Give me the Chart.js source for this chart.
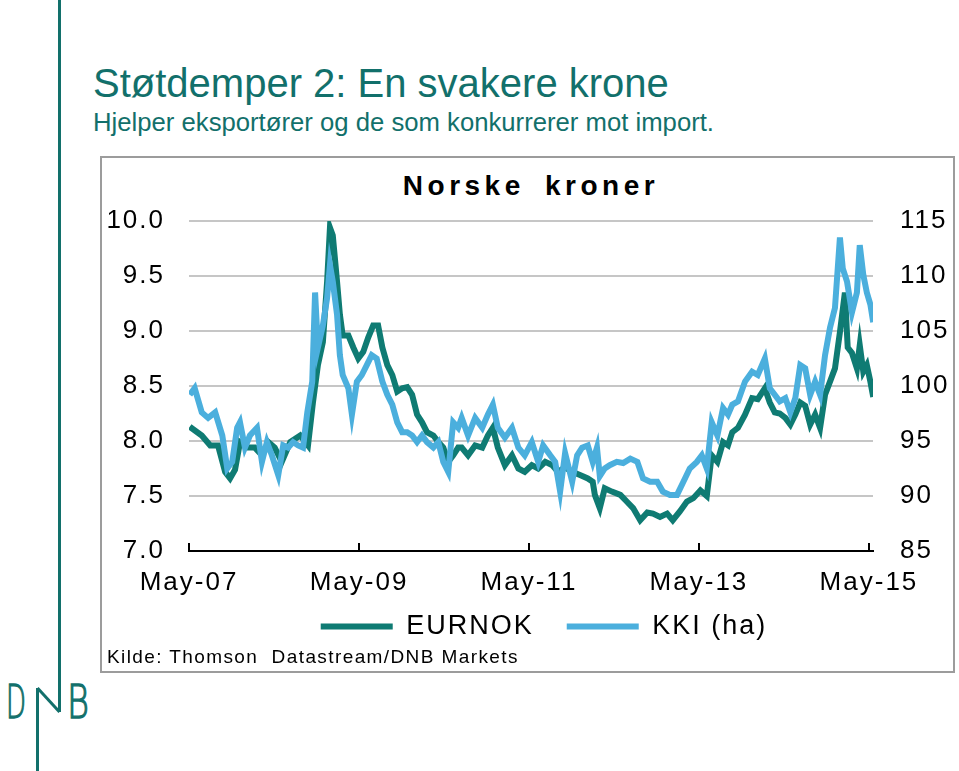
<!DOCTYPE html>
<html>
<head>
<meta charset="utf-8">
<script src="https://cdn.jsdelivr.net/npm/chart.js@4.4.1/dist/chart.umd.min.js"></script>
<style>
  body { margin: 0; background: #fff; }
  #page { position: relative; width: 959px; height: 771px; overflow: hidden; background: #fff; font-family: Arial, "Liberation Sans", sans-serif; }
  .abs { position: absolute; white-space: pre; }
  #title { left: 93px; top: 63px; font-size: 40px; line-height: 40px; color: #12706b; }
  #subtitle { left: 93px; top: 110px; font-size: 25.7px; line-height: 25px; color: #12706b; }
  #frame { left: 100px; top: 156px; width: 855px; height: 517px; border: 2px solid #9c9c9c; box-sizing: border-box; }
  #chartTitle { left: 381px; width: 300px; top: 172px; text-align: center; font-size: 28px; line-height: 28px; font-weight: bold; letter-spacing: 4.5px; word-spacing: 8px; color: #000; }
  #source { left: 107px; top: 647px; font-size: 19px; line-height: 19px; letter-spacing: 1.4px; color: #000; }
  canvas { position: absolute; left: 0; top: 0; }
</style>
</head>
<body>
<div id="page">
  <svg class="abs" style="left:0;top:0" width="100" height="771">
    <line x1="59.5" y1="0" x2="59.5" y2="712" stroke="#12706b" stroke-width="3"/>
    <line x1="37.5" y1="688" x2="37.5" y2="771" stroke="#12706b" stroke-width="3"/>
    <line x1="37.5" y1="688" x2="59.5" y2="712" stroke="#12706b" stroke-width="3"/>
    <text x="6" y="718" font-size="46" fill="#12706b" stroke="#12706b" stroke-width="1.3" textLength="20" lengthAdjust="spacingAndGlyphs" font-family="DejaVu Sans" font-weight="200">D</text>
    <text x="67" y="718" font-size="46" fill="#12706b" stroke="#12706b" stroke-width="1.3" textLength="22" lengthAdjust="spacingAndGlyphs" font-family="DejaVu Sans" font-weight="200">B</text>
  </svg>
  <div id="title" class="abs">Støtdemper 2: En svakere krone</div>
  <div id="subtitle" class="abs">Hjelper eksportører og de som konkurrerer mot import.</div>
  <div id="frame" class="abs"></div>
  <div id="chartTitle" class="abs">Norske kroner</div>
  <canvas id="chart" width="988" height="771"></canvas>
  <div id="source" class="abs">Kilde: Thomson  Datastream/DNB Markets</div>
</div>

<script>
// months counted from May 2007
const tickMonths = [0, 24, 48, 72, 96]
const tickLabels = ['May-07', 'May-09', 'May-11', 'May-13', 'May-15']

// EURNOK (left axis)
const eurMonths = [
  0.1, 1.8, 3.0, 4.1, 5.1, 5.8, 6.5, 7.2, 8.3, 9.3,
  10.3, 11.2, 12.1, 13.1, 14.3, 15.7, 16.8, 17.5, 18.2, 18.9,
  19.5, 19.9, 20.3, 20.9, 21.3, 21.7, 22.5, 23.2, 23.9, 24.6,
  25.3, 26.0, 26.7, 27.3, 28.0, 28.7, 29.4, 30.1, 30.8, 31.5,
  32.2, 32.9, 33.6, 34.5, 35.2, 35.9, 36.6, 37.3, 38.0, 38.5,
  39.4, 40.4, 41.4, 42.2, 42.9, 43.6, 44.6, 45.6, 46.5, 47.4,
  48.4, 49.3, 50.3, 51.3, 52.1, 53.1, 54.1, 55.2, 56.3, 57.0,
  57.3, 58.0, 58.7, 59.7, 60.9, 61.8, 62.7, 63.7, 64.7, 65.5,
  66.5, 67.5, 68.3, 69.3, 70.3, 71.2, 72.2, 73.1, 73.8, 74.6,
  75.4, 76.1, 76.7, 77.5, 78.5, 79.5, 80.3, 81.3, 82.0, 82.7,
  83.4, 84.2, 84.9, 85.6, 86.3, 87.0, 87.7, 88.4, 89.1, 89.8,
  90.5, 91.2, 91.9, 92.6, 93.0, 93.6, 94.3, 94.7, 95.2, 95.7,
  96.2, 96.6
]
const eurnok = [
  8.13, 8.05, 7.96, 7.96, 7.72, 7.66, 7.74, 7.99, 7.94, 7.94,
  7.87, 7.99, 7.94, 7.81, 7.99, 8.05, 7.96, 8.35, 8.69, 8.90,
  9.45, 9.94, 9.87, 9.45, 9.15, 8.96, 8.96, 8.85, 8.75, 8.81,
  8.94, 9.05, 9.05, 8.85, 8.69, 8.60, 8.45, 8.48, 8.49, 8.42,
  8.24, 8.17, 8.08, 8.05, 7.99, 7.94, 7.81, 7.87, 7.94, 7.94,
  7.87, 7.96, 7.94, 8.05, 8.12, 7.94, 7.78, 7.87, 7.75, 7.72,
  7.78, 7.75, 7.81, 7.78, 7.72, 7.76, 7.72, 7.69, 7.66, 7.63,
  7.51, 7.39, 7.57, 7.54, 7.51, 7.45, 7.39, 7.28, 7.35, 7.34,
  7.31, 7.34, 7.28, 7.36, 7.45, 7.48, 7.55, 7.50, 7.87, 7.81,
  7.99, 7.96, 8.08, 8.12, 8.24, 8.39, 8.38, 8.48, 8.35, 8.26,
  8.25, 8.21, 8.15, 8.24, 8.35, 8.32, 8.15, 8.24, 8.12, 8.42,
  8.54, 8.66, 8.99, 9.35, 8.85, 8.80, 8.66, 8.87, 8.63, 8.69,
  8.54, 8.40
]

// KKI (right axis)
const kkiMonths = [
  0.1, 0.8, 1.8, 2.7, 3.7, 4.7, 5.4, 6.1, 6.8, 7.2,
  7.9, 8.6, 9.6, 10.3, 11.0, 11.7, 12.6, 13.3, 14.0, 14.7,
  15.4, 16.1, 16.7, 17.4, 17.8, 18.2, 18.9, 19.5, 19.9, 20.3,
  20.9, 21.3, 21.7, 22.5, 23.0, 23.7, 24.4, 25.1, 25.8, 26.5,
  27.3, 28.0, 28.7, 29.4, 30.1, 30.8, 31.5, 32.2, 32.9, 33.6,
  34.5, 35.2, 35.9, 36.6, 37.3, 38.0, 38.5, 39.4, 40.4, 41.4,
  42.2, 42.9, 43.6, 44.6, 45.6, 46.5, 47.4, 48.4, 49.3, 50.0,
  51.0, 51.7, 52.4, 53.1, 54.1, 54.8, 55.5, 56.3, 57.0, 57.6,
  58.0, 58.7, 59.4, 60.4, 61.3, 62.3, 63.3, 64.1, 65.1, 66.1,
  66.9, 67.9, 68.9, 69.8, 70.7, 71.7, 72.4, 73.1, 73.8, 74.6,
  75.4, 76.1, 76.7, 77.5, 78.5, 79.5, 80.3, 81.3, 82.0, 82.7,
  83.4, 84.2, 84.9, 85.6, 86.3, 87.0, 87.7, 88.4, 89.1, 89.8,
  90.5, 91.2, 91.9, 92.3, 92.9, 93.6, 94.3, 94.7, 95.2, 95.7,
  96.2, 96.6
]
const kki = [
  99.2, 99.8, 97.6, 97.1, 97.6, 95.5, 92.5, 93.1, 96.2, 96.7,
  94.4, 95.5, 96.2, 93.1, 94.9, 93.7, 91.9, 94.6, 94.4, 94.9,
  94.6, 94.4, 97.6, 100.4, 108.5, 103.5, 105.5, 108.0, 111.0, 109.5,
  106.5, 102.8, 101.0, 99.8, 97.4, 100.4, 101.0, 101.9, 102.8, 102.5,
  100.4, 99.2, 98.3, 96.7, 95.8, 95.8, 95.5, 94.9, 95.5, 94.9,
  94.4, 94.9, 93.1, 92.2, 96.7, 96.2, 97.1, 95.5, 97.1, 96.2,
  97.4, 98.3, 96.2, 95.3, 96.2, 94.4, 93.7, 94.9, 93.1, 94.6,
  93.7, 93.1, 90.4, 93.9, 91.3, 93.7, 94.4, 94.6, 93.1, 94.4,
  91.8, 92.5, 92.8, 93.1, 93.0, 93.4, 93.1, 91.6, 91.3, 91.3,
  90.4, 90.1, 90.1, 91.3, 92.5, 93.1, 93.7, 92.5, 96.7, 95.5,
  98.0, 97.4, 98.3, 98.6, 100.4, 101.3, 101.0, 102.5, 99.8, 99.2,
  98.6, 98.9, 97.6, 98.9, 101.9, 101.6, 99.2, 100.4, 99.2, 102.8,
  105.3, 107.1, 113.5, 110.7, 109.5, 106.7, 108.5, 112.8, 110.1, 108.5,
  107.4, 105.8
]

const FONT = 'Arial, "Liberation Sans", sans-serif'

// stretch the canvas text a little, like the original
const spacingPlugin = {
  id: 'spacing',
  beforeUpdate(chart) { chart.ctx.letterSpacing = '2px' },
  beforeDraw(chart) { chart.ctx.letterSpacing = '2px' }
}

const ctx = document.getElementById('chart').getContext('2d')
const chart = new Chart(ctx, {
  type: 'line',
  data: {
    datasets: [
      {
        label: 'EURNOK',
        data: eurMonths.map((m, i) => ({ x: m, y: eurnok[i] })),
        yAxisID: 'y',
        borderColor: '#0f7b73',
        backgroundColor: '#0f7b73',
        borderWidth: 6,
        pointRadius: 0,
        tension: 0,
        order: 2
      },
      {
        label: 'KKI (ha)',
        data: kkiMonths.map((m, i) => ({ x: m, y: kki[i] })),
        yAxisID: 'y2',
        borderColor: '#4bafdd',
        backgroundColor: '#4bafdd',
        borderWidth: 6,
        pointRadius: 0,
        tension: 0,
        order: 1
      }
    ]
  },
  options: {
    responsive: false,
    animation: false,
    devicePixelRatio: 1,
    layout: { padding: { left: 100, right: 0, top: 221, bottom: 121 } },
    plugins: {
      title: { display: false },
      tooltip: { enabled: false },
      legend: {
        position: 'bottom',
        labels: {
          usePointStyle: true,
          pointStyle: 'line',
          pointStyleWidth: 72,
          padding: 14,
          color: '#000',
          font: { family: FONT, size: 27 },
          generateLabels: (c) => {
            const items = Chart.defaults.plugins.legend.labels.generateLabels(c)
              .sort((a, b) => a.datasetIndex - b.datasetIndex)
            items[0].text += '  '
            return items
          }
        }
      }
    },
    scales: {
      x: {
        type: 'linear',
        min: 0,
        max: 96.57,
        afterBuildTicks: (scale) => { scale.ticks = tickMonths.map(v => ({ value: v })) },
        afterFit: (scale) => { scale.height = 48 },
        ticks: {
          color: '#000',
          padding: 24,
          maxRotation: 0,
          font: { family: FONT, size: 26, lineHeight: 1.2 },
          callback: (v, i) => tickLabels[i]
        },
        grid: { drawOnChartArea: false, drawTicks: true, tickLength: -8, color: '#000', lineWidth: 2 },
        border: { display: true, color: '#000', width: 2 }
      },
      y: {
        position: 'left',
        min: 7,
        max: 10,
        afterFit: (scale) => { scale.width = 89 },
        ticks: {
          stepSize: 0.5,
          color: '#000',
          padding: 24,
          font: { family: FONT, size: 26 },
          callback: (v) => v.toFixed(1)
        },
        grid: {
          drawTicks: false,
          lineWidth: 2,
          color: (c) => c.tick && c.tick.value === 7 ? 'rgba(0,0,0,0)' : '#c6c6c6'
        },
        border: { display: false }
      },
      y2: {
        position: 'right',
        min: 85,
        max: 115,
        afterFit: (scale) => { scale.width = 115 },
        ticks: {
          stepSize: 5,
          color: '#000',
          padding: 27,
          font: { family: FONT, size: 26 }
        },
        grid: { display: false, drawTicks: false },
        border: { display: false }
      }
    }
  },
  plugins: [spacingPlugin]
})
</script>
</body>
</html>
